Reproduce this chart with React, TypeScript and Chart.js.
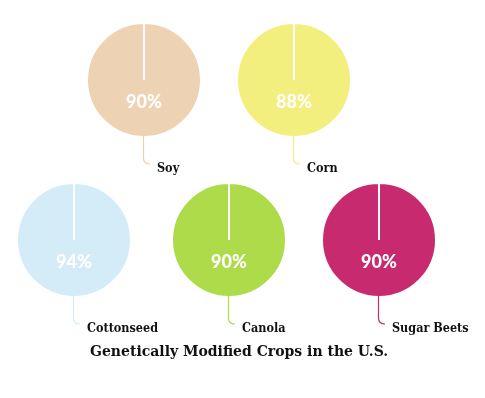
import React, { useEffect, useRef } from "react";
import { Chart, registerables } from "chart.js";

Chart.register(...registerables);

const crops = ["Soy", "Corn", "Cottonseed", "Canola", "Sugar Beets"];
const percents = [90, 88, 94, 90, 90];
const title = "Genetically Modified Crops in the U.S.";

const colors = ["#EDD3B3", "#F3EF7E", "#D4ECF7", "#ADDB4A", "#C72A6E"];
const centers = [
  [144, 80],
  [294, 80],
  [74, 240],
  [229, 240],
  [379, 240],
];

const BOX_W = 190;
const BOX_H = 170;
const OFF = 60;
const R = 57;

const labelPlugin = {
  id: "cropLabel",
  afterDatasetsDraw(chart: any, _args: any, opts: any) {
    const arc = chart.getDatasetMeta(0).data[0];
    if (!arc) return;
    const { x, y } = arc;
    const r = 56;
    const ctx = chart.ctx;
    ctx.save();
    // percent text
    ctx.fillStyle = "#ffffff";
    ctx.font = "900 18px Lato, 'Open Sans', sans-serif";
    ctx.textAlign = "center";
    ctx.textBaseline = "middle";
    ctx.fillText(opts.value + "%", x, y + 22);
    // leader line
    ctx.strokeStyle = opts.color;
    ctx.lineWidth = 1.2;
    ctx.beginPath();
    ctx.moveTo(x - 0.5, y + r);
    ctx.lineTo(x - 0.5, y + r + 22);
    ctx.quadraticCurveTo(x - 0.5, y + r + 28, x + 6, y + r + 28);
    ctx.stroke();
    // label
    ctx.fillStyle = "#111111";
    ctx.font = "bold 12.5px 'DejaVu Serif Condensed', 'DejaVu Serif', serif";
    ctx.textAlign = "left";
    ctx.textBaseline = "alphabetic";
    ctx.fillText(opts.label, x + 13, y + 92);
    ctx.restore();
  },
};

function CropPie({ index }: { index: number }) {
  const ref = useRef<HTMLCanvasElement | null>(null);
  useEffect(() => {
    if (!ref.current) return;
    const chart = new Chart(ref.current, {
      type: "pie",
      data: {
        labels: [crops[index]],
        datasets: [
          {
            data: [percents[index]],
            backgroundColor: [colors[index]],
            borderColor: "#ffffff",
            borderWidth: 2,
          },
        ],
      },
      options: {
        responsive: false,
        animation: false,
        radius: R,
        layout: {
          padding: { left: 0, top: 0, right: BOX_W - 2 * OFF, bottom: BOX_H - 2 * OFF },
        },
        plugins: {
          legend: { display: false },
          tooltip: { enabled: false },
          cropLabel: { value: percents[index], label: crops[index], color: colors[index] },
        } as any,
        events: [],
      },
      plugins: [labelPlugin],
    });
    return () => chart.destroy();
  }, [index]);
  const [cx, cy] = centers[index];
  return (
    <div style={{ position: "absolute", left: cx - OFF, top: cy - OFF, width: BOX_W, height: BOX_H }}>
      <canvas ref={ref} width={BOX_W} height={BOX_H} />
    </div>
  );
}

export default function App() {
  return (
    <div
      style={{
        position: "absolute",
        left: 0,
        top: 0,
        width: 485,
        height: 398,
        background: "#ffffff",
        overflow: "hidden",
      }}
    >
      {crops.map((_, i) => (
        <CropPie key={i} index={i} />
      ))}
      <div
        style={{
          position: "absolute",
          left: 90,
          top: 343,
          font: "bold 14px 'DejaVu Serif', serif",
          lineHeight: "16px",
          color: "#111111",
          whiteSpace: "nowrap",
        }}
      >
        {title}
      </div>
    </div>
  );
}
